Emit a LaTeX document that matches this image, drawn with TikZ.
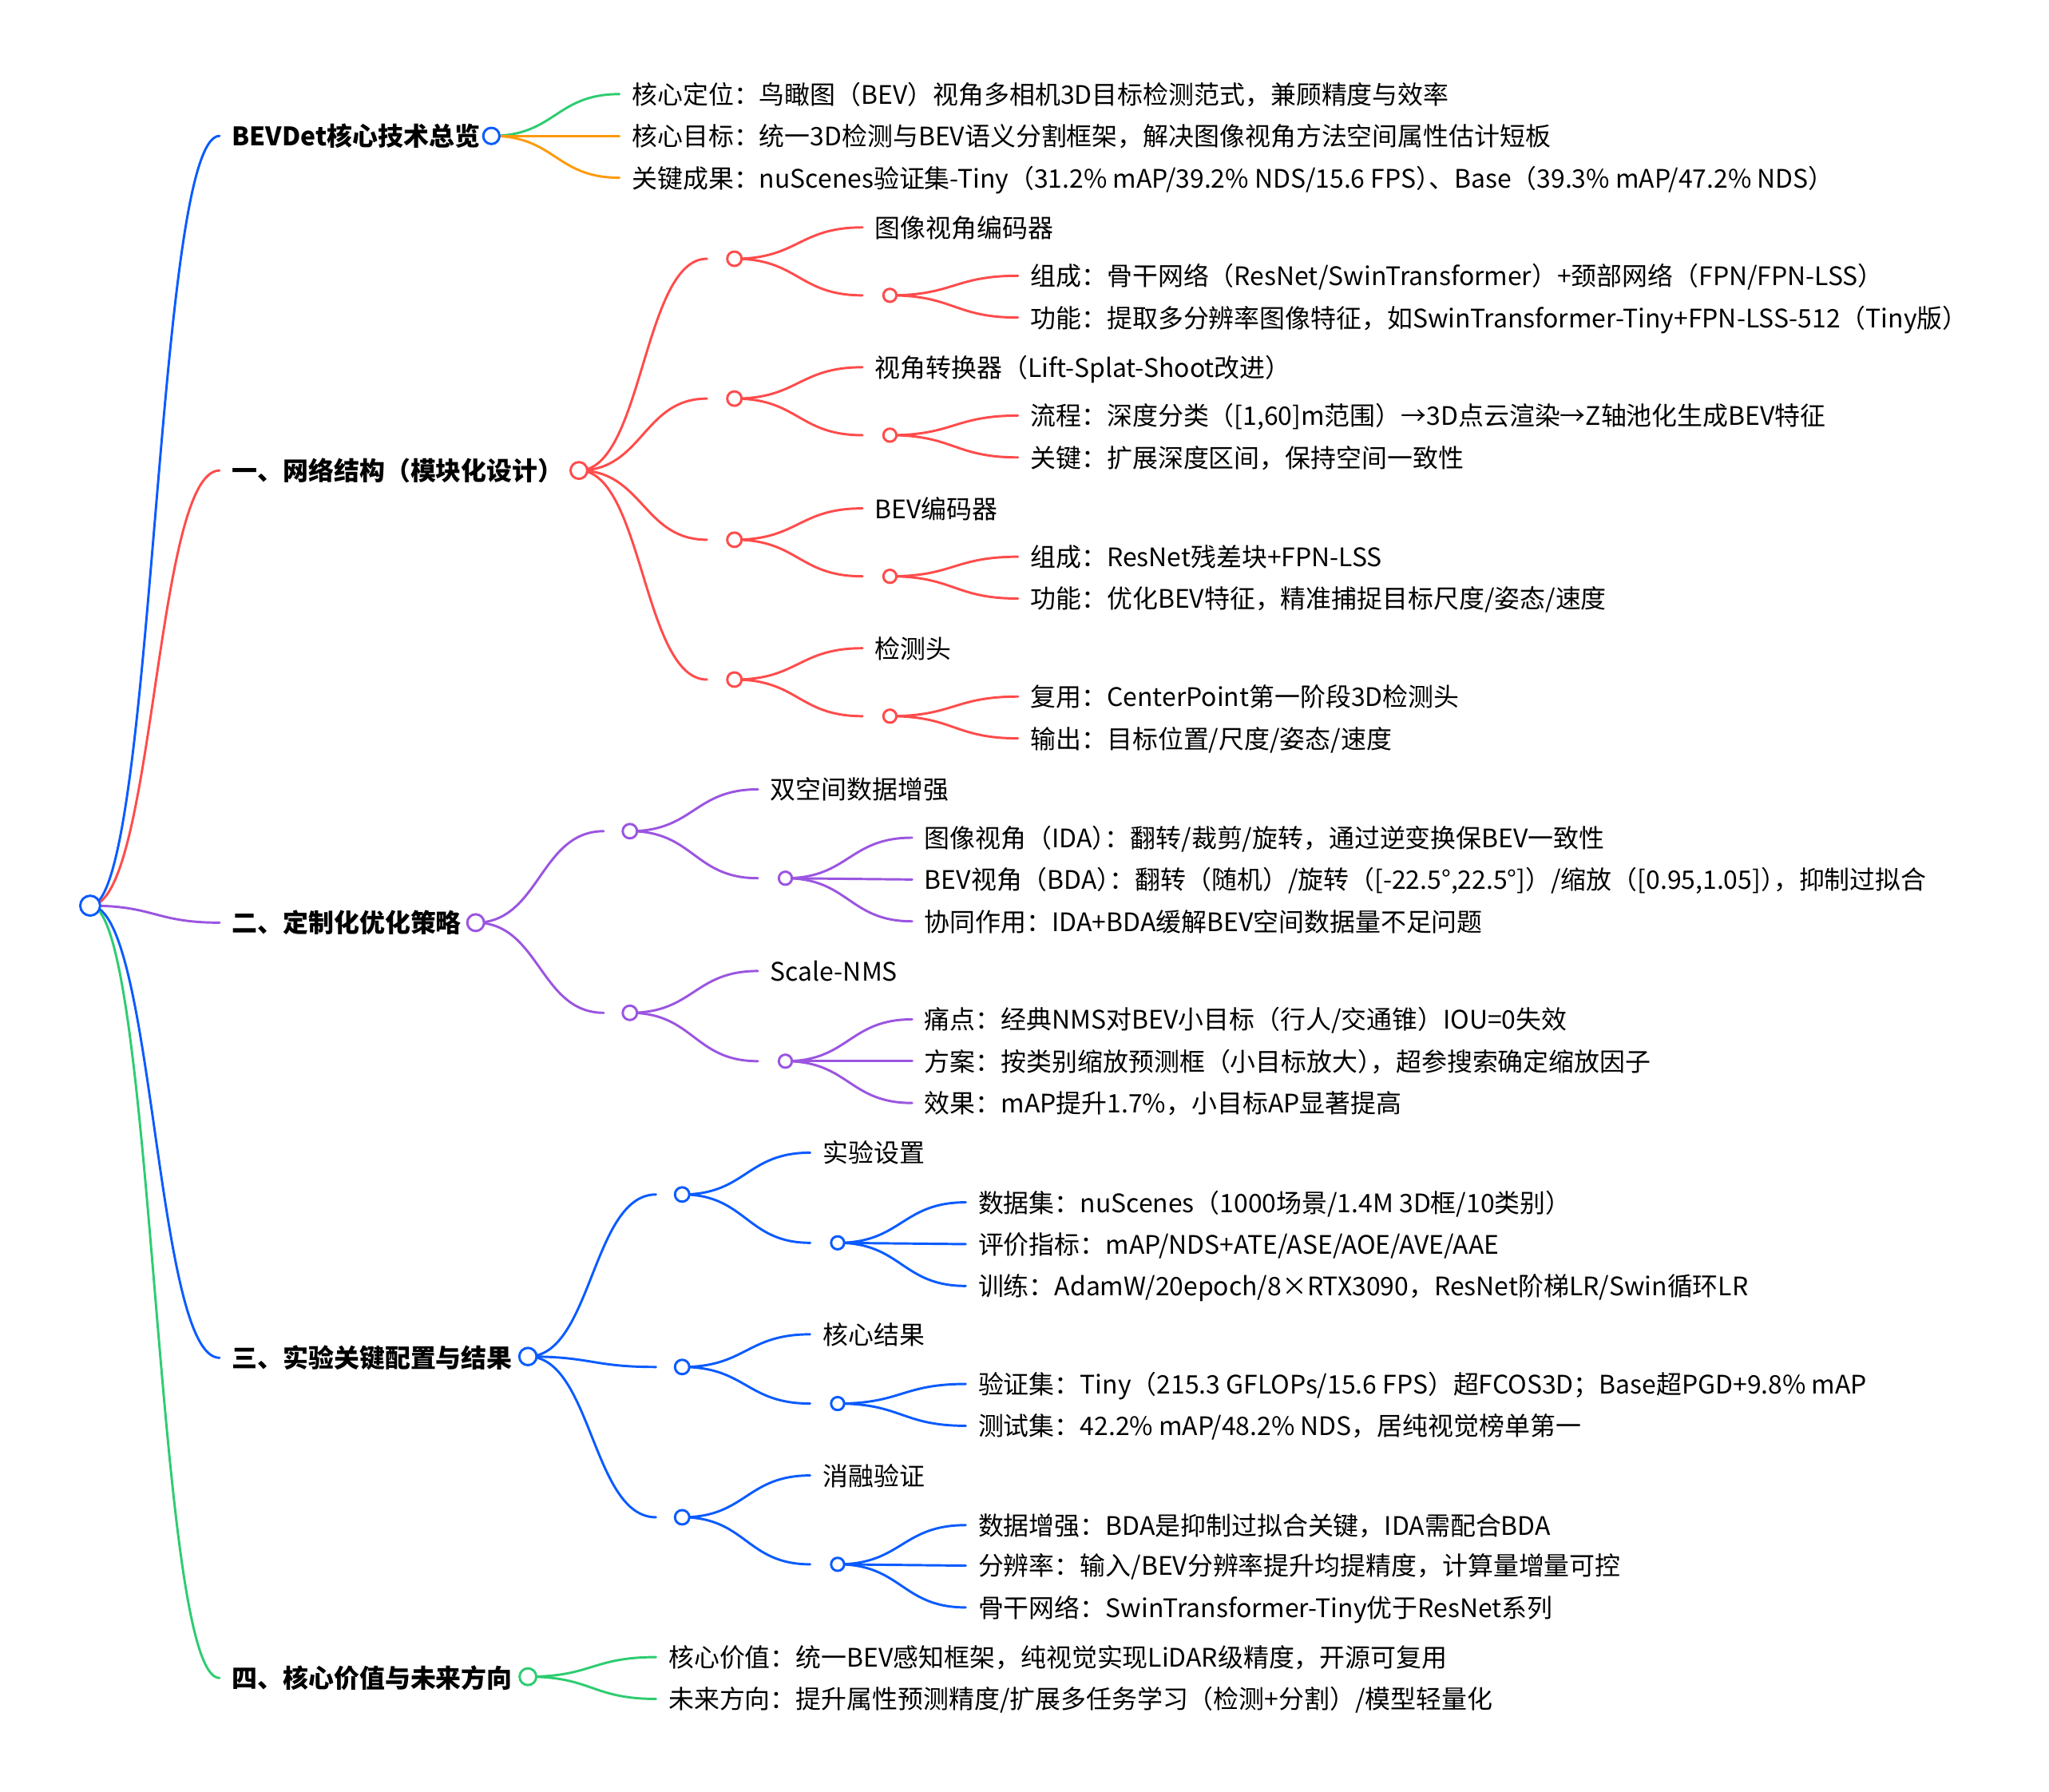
\documentclass[tikz,border=0pt]{standalone}
\usepackage{fontspec}
\setmainfont{Noto Sans CJK SC}
\usepackage{tikz}
\usetikzlibrary{calc,positioning}

\definecolor{mmblue}{HTML}{0A5BFF}
\definecolor{mmred}{HTML}{FF4B4B}
\definecolor{mmpurple}{HTML}{9B55E0}
\definecolor{mmgreen}{HTML}{2ECC71}
\definecolor{mmorange}{HTML}{FF9A0E}

\newcommand{\halfpunct}[1]{{\addfontfeature{RawFeature=+halt}#1}}

\pgfdeclarelayer{bg}
\pgfsetlayers{bg,main}

\begin{document}
\begin{tikzpicture}[
  x=0.5pt, y=-0.5pt,
  font=\fontsize{9.75pt}{12pt}\selectfont,
  txt/.style={anchor=west, inner xsep=4.6pt, inner ysep=0pt,
    text height=0.88em, text depth=0.12em},
  hub/.style={txt, font=\fontsize{9.75pt}{12pt}\selectfont\bfseries},
  dot/.style={circle, draw=#1, fill=white, line width=0.9pt,
    inner sep=0pt, minimum size=5.5pt},
  link/.style={draw=#1, line width=0.9pt, line cap=round,
    to path={let \p1=(\tikztostart), \p2=(\tikztotarget) in
      .. controls ({(\x1+\x2)/2},\y1) and ({(\x1+\x2)/2},\y2) .. (\tikztotarget)}}
]
\useasboundingbox (0,0) rectangle (1568,1371);

\node[dot=mmblue, minimum size=7.6pt] (r) at (69,693) {};

\node[hub] (t0) at (168,104) {BEVDet核心技术总览};
\node[dot=mmblue, minimum size=6.2pt] (c0) at (376,104) {};
\node[txt] (a1) at (474,72) {核心定位：鸟瞰图（BEV）视角多相机3D目标检测范式，兼顾精度与效率};
\node[txt] (a2) at (474,104) {核心目标：统一3D检测与BEV语义分割框架，解决图像视角方法空间属性估计短板};
\node[txt] (a3) at (474,136) {关键成果：nuScenes验证集-Tiny（31.2\% mAP/39.2\% NDS/15.6 FPS\halfpunct{）}、Base（39.3\% mAP/47.2\% NDS）};

\node[hub] (t1) at (168,360) {一、网络结构（模块化设计）};
\node[dot=mmred, minimum size=6.4pt] (c1) at (443,360) {};
\coordinate (b11) at (541,198);
\node[dot=mmred] (b11d) at (562,198) {};
\node[txt] (enc) at (660,174) {图像视角编码器};
\coordinate (b111) at (660,226);
\node[dot=mmred, minimum size=5pt] (b111d) at (681,226) {};
\node[txt] (enc1) at (779,211) {组成：骨干网络（ResNet/SwinTransformer）+颈部网络（FPN/FPN-LSS）};
\node[txt] (enc2) at (779,243) {功能：提取多分辨率图像特征，如SwinTransformer-Tiny+FPN-LSS-512（Tiny版）};
\coordinate (b12) at (541,305);
\node[dot=mmred] (b12d) at (562,305) {};
\node[txt] (vt) at (660,281) {视角转换器（Lift-Splat-Shoot改进）};
\coordinate (b121) at (660,333);
\node[dot=mmred, minimum size=5pt] (b121d) at (681,333) {};
\node[txt] (vt1) at (779,318) {流程：深度分类（[1,60]m范围）→3D点云渲染→Z轴池化生成BEV特征};
\node[txt] (vt2) at (779,350) {关键：扩展深度区间，保持空间一致性};
\coordinate (b13) at (541,413);
\node[dot=mmred] (b13d) at (562,413) {};
\node[txt] (bev) at (660,389) {BEV编码器};
\coordinate (b131) at (660,441);
\node[dot=mmred, minimum size=5pt] (b131d) at (681,441) {};
\node[txt] (bev1) at (779,426) {组成：ResNet残差块+FPN-LSS};
\node[txt] (bev2) at (779,458) {功能：优化BEV特征，精准捕捉目标尺度/姿态/速度};
\coordinate (b14) at (541,520);
\node[dot=mmred] (b14d) at (562,520) {};
\node[txt] (head) at (660,496) {检测头};
\coordinate (b141) at (660,548);
\node[dot=mmred, minimum size=5pt] (b141d) at (681,548) {};
\node[txt] (head1) at (779,533) {复用：CenterPoint第一阶段3D检测头};
\node[txt] (head2) at (779,565) {输出：目标位置/尺度/姿态/速度};

\node[hub] (t2) at (168,706) {二、定制化优化策略};
\node[dot=mmpurple, minimum size=6.4pt] (c2) at (364,706) {};
\coordinate (b21) at (462,636);
\node[dot=mmpurple] (b21d) at (482,636) {};
\node[txt] (aug) at (580,604) {双空间数据增强};
\coordinate (b211) at (580,672);
\node[dot=mmpurple, minimum size=5pt] (b211d) at (601,672) {};
\node[txt] (aug1) at (698,641) {图像视角（IDA\halfpunct{）}：翻转/裁剪/旋转，通过逆变换保BEV一致性};
\node[txt] (aug2) at (698,673) {BEV视角（BDA\halfpunct{）}：翻转（随机）/旋转（[-22.5°,22.5°]）/缩放（[0.95,1.05]\halfpunct{）}，抑制过拟合};
\node[txt] (aug3) at (698,705) {协同作用：IDA+BDA缓解BEV空间数据量不足问题};
\coordinate (b22) at (462,775);
\node[dot=mmpurple] (b22d) at (482,775) {};
\node[txt] (nms) at (580,743) {Scale-NMS};
\coordinate (b221) at (580,812);
\node[dot=mmpurple, minimum size=5pt] (b221d) at (601,812) {};
\node[txt] (nms1) at (698,780) {痛点：经典NMS对BEV小目标（行人/交通锥）IOU=0失效};
\node[txt] (nms2) at (698,812) {方案：按类别缩放预测框（小目标放大\halfpunct{）}，超参搜索确定缩放因子};
\node[txt] (nms3) at (698,844) {效果：mAP提升1.7\%，小目标AP显著提高};

\node[hub] (t3) at (168,1039) {三、实验关键配置与结果};
\node[dot=mmblue, minimum size=6.6pt] (c3) at (404,1038) {};
\coordinate (b31) at (502,914);
\node[dot=mmblue] (b31d) at (522,914) {};
\node[txt] (exp) at (620,882) {实验设置};
\coordinate (b311) at (620,951);
\node[dot=mmblue, minimum size=5pt] (b311d) at (641,951) {};
\node[txt] (exp1) at (739,920) {数据集：nuScenes（1000场景/1.4M 3D框/10类别）};
\node[txt] (exp2) at (739,952) {评价指标：mAP/NDS+ATE/ASE/AOE/AVE/AAE};
\node[txt] (exp3) at (739,984) {训练：AdamW/20epoch/8×RTX3090，ResNet阶梯LR/Swin循环LR};
\coordinate (b32) at (502,1046);
\node[dot=mmblue] (b32d) at (522,1046) {};
\node[txt] (res) at (620,1021) {核心结果};
\coordinate (b321) at (620,1074);
\node[dot=mmblue, minimum size=5pt] (b321d) at (641,1074) {};
\node[txt] (res1) at (739,1059) {验证集：Tiny（215.3 GFLOPs/15.6 FPS）超FCOS3D；Base超PGD+9.8\% mAP};
\node[txt] (res2) at (739,1091) {测试集：42.2\% mAP/48.2\% NDS，居纯视觉榜单第一};
\coordinate (b33) at (502,1161);
\node[dot=mmblue] (b33d) at (522,1161) {};
\node[txt] (abl) at (620,1129) {消融验证};
\coordinate (b331) at (620,1197);
\node[dot=mmblue, minimum size=5pt] (b331d) at (641,1197) {};
\node[txt] (abl1) at (739,1167) {数据增强：BDA是抑制过拟合关键，IDA需配合BDA};
\node[txt] (abl2) at (739,1198) {分辨率：输入/BEV分辨率提升均提精度，计算量增量可控};
\node[txt] (abl3) at (739,1230) {骨干网络：SwinTransformer-Tiny优于ResNet系列};

\node[hub] (t4) at (168,1284) {四、核心价值与未来方向};
\node[dot=mmgreen, minimum size=6.4pt] (c4) at (404,1283) {};
\node[txt] (val) at (502,1268) {核心价值：统一BEV感知框架，纯视觉实现LiDAR级精度，开源可复用};
\node[txt] (fut) at (502,1300) {未来方向：提升属性预测精度/扩展多任务学习（检测+分割）/模型轻量化};

\begin{pgfonlayer}{bg}
\draw[link=mmblue] (r.center) to (t0.west);
\draw[link=mmred] (r.center) to (t1.west);
\draw[link=mmpurple] (r.center) to (t2.west);
\draw[link=mmblue] (r.center) to (t3.west);
\draw[link=mmgreen] (r.center) to (t4.west);

\draw[link=mmgreen] (c0.center) to (a1.west);
\draw[link=mmorange] (c0.center) to (a2.west);
\draw[link=mmorange] (c0.center) to (a3.west);

\draw[link=mmred] (c1.center) to (b11);
\draw[link=mmred] (c1.center) to (b12);
\draw[link=mmred] (c1.center) to (b13);
\draw[link=mmred] (c1.center) to (b14);
\draw[link=mmred] (b11d.center) to (enc.west);
\draw[link=mmred] (b11d.center) to (b111);
\draw[link=mmred] (b111d.center) to (enc1.west);
\draw[link=mmred] (b111d.center) to (enc2.west);
\draw[link=mmred] (b12d.center) to (vt.west);
\draw[link=mmred] (b12d.center) to (b121);
\draw[link=mmred] (b121d.center) to (vt1.west);
\draw[link=mmred] (b121d.center) to (vt2.west);
\draw[link=mmred] (b13d.center) to (bev.west);
\draw[link=mmred] (b13d.center) to (b131);
\draw[link=mmred] (b131d.center) to (bev1.west);
\draw[link=mmred] (b131d.center) to (bev2.west);
\draw[link=mmred] (b14d.center) to (head.west);
\draw[link=mmred] (b14d.center) to (b141);
\draw[link=mmred] (b141d.center) to (head1.west);
\draw[link=mmred] (b141d.center) to (head2.west);

\draw[link=mmpurple] (c2.center) to (b21);
\draw[link=mmpurple] (c2.center) to (b22);
\draw[link=mmpurple] (b21d.center) to (aug.west);
\draw[link=mmpurple] (b21d.center) to (b211);
\draw[link=mmpurple] (b211d.center) to (aug1.west);
\draw[link=mmpurple] (b211d.center) to (aug2.west);
\draw[link=mmpurple] (b211d.center) to (aug3.west);
\draw[link=mmpurple] (b22d.center) to (nms.west);
\draw[link=mmpurple] (b22d.center) to (b221);
\draw[link=mmpurple] (b221d.center) to (nms1.west);
\draw[link=mmpurple] (b221d.center) to (nms2.west);
\draw[link=mmpurple] (b221d.center) to (nms3.west);

\draw[link=mmblue] (c3.center) to (b31);
\draw[link=mmblue] (c3.center) to (b32);
\draw[link=mmblue] (c3.center) to (b33);
\draw[link=mmblue] (b31d.center) to (exp.west);
\draw[link=mmblue] (b31d.center) to (b311);
\draw[link=mmblue] (b311d.center) to (exp1.west);
\draw[link=mmblue] (b311d.center) to (exp2.west);
\draw[link=mmblue] (b311d.center) to (exp3.west);
\draw[link=mmblue] (b32d.center) to (res.west);
\draw[link=mmblue] (b32d.center) to (b321);
\draw[link=mmblue] (b321d.center) to (res1.west);
\draw[link=mmblue] (b321d.center) to (res2.west);
\draw[link=mmblue] (b33d.center) to (abl.west);
\draw[link=mmblue] (b33d.center) to (b331);
\draw[link=mmblue] (b331d.center) to (abl1.west);
\draw[link=mmblue] (b331d.center) to (abl2.west);
\draw[link=mmblue] (b331d.center) to (abl3.west);

\draw[link=mmgreen] (c4.center) to (val.west);
\draw[link=mmgreen] (c4.center) to (fut.west);
\end{pgfonlayer}
\end{tikzpicture}
\end{document}
